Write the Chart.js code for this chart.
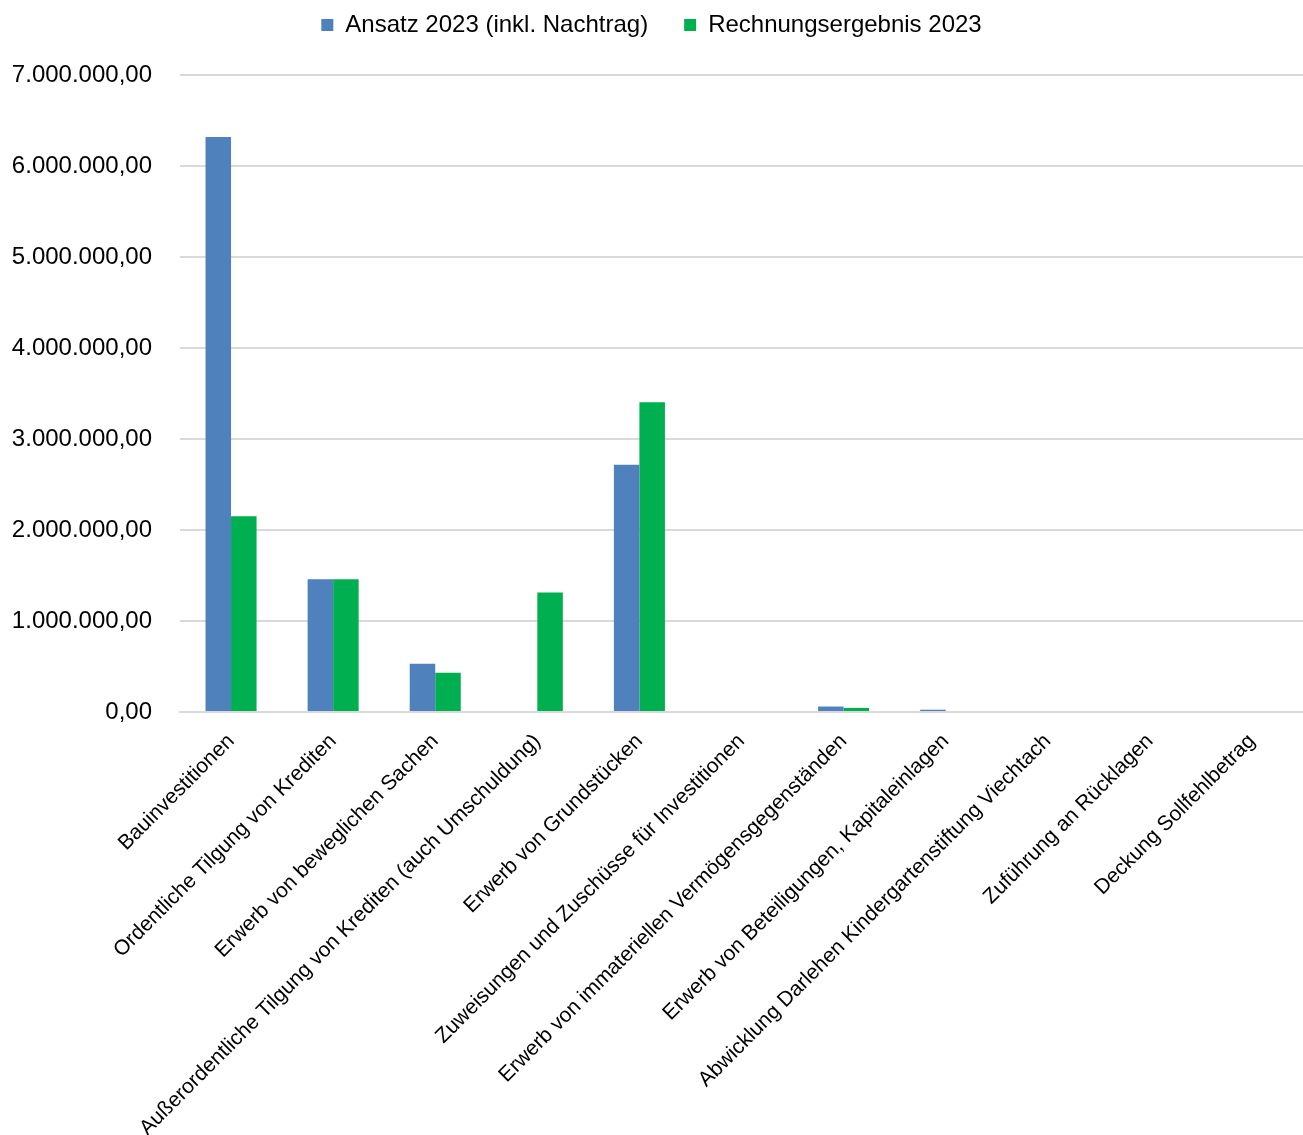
<!DOCTYPE html>
<html lang="de">
<head>
    <meta charset="UTF-8">
    <title>Ansatz und Rechnungsergebnis 2023</title>
    <script src="https://cdn.jsdelivr.net/npm/chart.js@4.4.1/dist/chart.umd.min.js"></script>
    <style>
        html, body {
            margin: 0;
            padding: 0;
            background: #ffffff;
        }
        .wrap {
            width: 1303px;
            height: 1135px;
        }
    </style>
</head>
<body>
    <div class="wrap">
        <canvas id="investChart" width="1303" height="1135"></canvas>
    </div>

    <script>
        const categories = [
            'Bauinvestitionen',
            'Ordentliche Tilgung von Krediten',
            'Erwerb von beweglichen Sachen',
            'Außerordentliche Tilgung von Krediten (auch Umschuldung)',
            'Erwerb von Grundstücken',
            'Zuweisungen und Zuschüsse für Investitionen',
            'Erwerb von immateriellen Vermögensgegenständen',
            'Erwerb von Beteiligungen, Kapitaleinlagen',
            'Abwicklung Darlehen Kindergartenstiftung Viechtach',
            'Zuführung an Rücklagen',
            'Deckung Sollfehlbetrag'
        ];
        const ansatz2023 = [6320000, 1459000, 529000, 0, 2716000, 0, 60000, 25000, 0, 0, 0];
        const ergebnis2023 = [2150000, 1459000, 430000, 1312000, 3403000, 0, 45000, 0, 0, 0, 0];
        const seriesNames = ['Ansatz 2023 (inkl. Nachtrag)', 'Rechnungsergebnis 2023'];
        const yTicks = [0, 1000000, 2000000, 3000000, 4000000, 5000000, 6000000, 7000000];

        const fmt = new Intl.NumberFormat('de-DE', { minimumFractionDigits: 2, maximumFractionDigits: 2 });

        // legend padding is large for the gap between items, so pull the legend up
        // and give back the room below it
        const legendSpace = {
            id: 'legendSpace',
            beforeInit(chart) {
                const origFit = chart.legend.fit;
                chart.legend.fit = function () {
                    origFit.bind(chart.legend)();
                    this.height += 28;
                };
            }
        };

        Chart.defaults.font.family = 'Arial, "Liberation Sans", sans-serif';
        Chart.defaults.color = '#000000';

        new Chart(document.getElementById('investChart'), {
            type: 'bar',
            data: {
                labels: categories,
                datasets: [
                    {
                        label: seriesNames[0],
                        data: ansatz2023,
                        backgroundColor: '#4f81bd',
                        categoryPercentage: 0.5,
                        barPercentage: 1.0
                    },
                    {
                        label: seriesNames[1],
                        data: ergebnis2023,
                        backgroundColor: '#00b050',
                        categoryPercentage: 0.5,
                        barPercentage: 1.0
                    }
                ]
            },
            options: {
                responsive: false,
                animation: false,
                layout: { padding: { top: -23, left: 0, right: 0, bottom: 0 } },
                plugins: {
                    legend: {
                        position: 'top',
                        labels: {
                            boxWidth: 12,
                            boxHeight: 12,
                            padding: 36,
                            font: { size: 24 },
                            color: '#000000'
                        }
                    },
                    tooltip: { enabled: false }
                },
                scales: {
                    x: {
                        grid: { display: false },
                        border: { display: true, color: '#d9d9d9', width: 2 },
                        ticks: {
                            autoSkip: false,
                            maxRotation: 45,
                            minRotation: 45,
                            padding: 9,
                            font: { size: 21 },
                            color: '#000000'
                        },
                        afterFit(scale) {
                            scale.height = 423;
                        }
                    },
                    y: {
                        min: 0,
                        max: 7000000,
                        afterBuildTicks(scale) {
                            scale.ticks = yTicks.map(v => ({ value: v }));
                        },
                        grid: { color: '#d9d9d9', lineWidth: 2, drawTicks: false },
                        border: { display: false },
                        ticks: {
                            padding: 28,
                            font: { size: 24 },
                            color: '#000000',
                            callback: v => fmt.format(v)
                        },
                        afterFit(scale) {
                            scale.width = 180;
                        }
                    }
                }
            },
            plugins: [legendSpace]
        });
    </script>
</body>
</html>
